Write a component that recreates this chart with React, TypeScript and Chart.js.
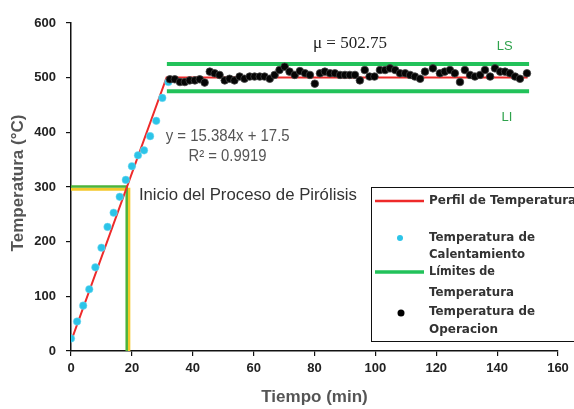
import React, { useEffect, useRef } from "react";
import { Chart, registerables } from "chart.js";

Chart.register(...registerables);

// ---- data ----
const heatTimes = [0, 2, 4, 6, 8, 10, 12, 14, 16, 18, 20, 22, 24, 26, 28, 30, 32];
const heatTemps = [23, 54, 83, 113, 153, 189, 227, 253, 282, 313, 338, 358, 367, 393, 421, 463, 492];

const opTimes = [
  32.5, 34.1, 35.8, 37.4, 39.0, 40.7, 42.3, 43.9, 45.6, 47.2, 48.8, 50.5, 52.1, 53.7, 55.4, 57.0, 58.7,
  60.3, 62.0, 63.6, 65.3, 66.9, 68.5, 70.2, 71.8, 73.5, 75.2, 76.9, 78.5, 80.1, 81.8, 83.4, 85.1, 86.7,
  88.4, 90.0, 91.6, 93.3, 94.9, 96.5, 98.1, 99.7, 101.5, 103.2, 104.8, 106.5, 108.1, 109.8, 111.4,
  113.0, 114.7, 116.3, 118.9, 121.2, 122.8, 124.5, 126.1, 127.8, 129.4, 131.1, 132.7, 134.4, 136.0,
  137.7, 139.3, 141.0, 142.6, 144.2, 145.9, 147.5, 149.8,
];
const opTemps = [
  497, 497, 492, 492, 495, 495, 497, 491, 511, 508, 505, 495, 498, 495, 502, 498, 502,
  502, 502, 502, 498, 505, 514, 520, 511, 505, 512, 508, 505, 489, 508, 511, 508, 508,
  505, 505, 505, 505, 495, 514, 502, 502, 514, 514, 517, 514, 508, 508, 505,
  502, 498, 511, 517, 508, 511, 514, 508, 492, 514, 505, 502, 505, 514,
  502, 517, 511, 511, 508, 502, 498, 508,
];

const profileTimes = [0, 31.4, 150];
const profileTemps = [17.5, 500.5, 500.5];

const limitTimes = [31.5, 150.5];
const upperLimit = 525;
const lowerLimit = 475;

const pyroGreenTimes = [0, 18.3, 18.3];
const pyroGreenTemps = [301, 301, 0];
const pyroYellowTimes = [0, 19, 19];
const pyroYellowTemps = [296, 296, 0];

const xTickValues = [0, 20, 40, 60, 80, 100, 120, 140, 160];
const yTickValues = [0, 100, 200, 300, 400, 500, 600];

const meanLabel = "\u03bc = 502.75";
const fitLabel = "y = 15.384x + 17.5";
const r2Label = "R\u00b2 = 0.9919";
const pyroLabel = "Inicio del Proceso de Pir\u00f3lisis";
const xTitle = "Tiempo (min)";
const yTitle = "Temperatura (\u00b0C)";

const toPts = (xs: number[], ys: number[]) => xs.map((x, i) => ({ x, y: ys[i] }));

const RED = "#ee2a2a";
const GREEN = "#22c25a";
const CYAN = "#2cc4e8";

const overlay = {
  id: "overlay",
  afterDraw(chart: any) {
    const ctx = chart.ctx as CanvasRenderingContext2D;
    const xs = chart.scales.x;
    const ys = chart.scales.y;
    const px = (v: number) => xs.getPixelForValue(v);
    const py = (v: number) => ys.getPixelForValue(v);
    ctx.save();
    ctx.textBaseline = "middle";
    ctx.textAlign = "left";

    // annotations
    ctx.fillStyle = "#222";
    ctx.font = "17px 'Liberation Serif'";
    ctx.fillText(meanLabel, px(79.5), py(563), 78);

    ctx.fillStyle = "#2ea24c";
    ctx.font = "13px 'Liberation Sans'";
    ctx.textAlign = "center";
    ctx.fillText("LS", px(142.5), py(557));
    ctx.fillText("LI", px(143.2), py(428));
    ctx.textAlign = "left";

    ctx.fillStyle = "#555";
    ctx.font = "16px 'Liberation Sans'";
    ctx.fillText(fitLabel, px(31.1), py(392), 124);
    ctx.fillText(r2Label, px(38.6), py(355), 78);

    ctx.fillStyle = "#333";
    ctx.font = "17px 'Liberation Sans'";
    ctx.fillText(pyroLabel, px(22.3), py(285), 218);

    // axis titles
    ctx.fillStyle = "#555";
    ctx.font = "bold 17px 'Liberation Sans'";
    ctx.textAlign = "center";
    ctx.fillText(xTitle, (xs.left + xs.right) / 2, 397, 116);
    ctx.save();
    ctx.translate(18, 183);
    ctx.rotate(-Math.PI / 2);
    ctx.fillText(yTitle, 0, 0, 182);
    ctx.restore();

    // legend
    const lx = 371.5;
    const ly = 187.5;
    ctx.fillStyle = "#fff";
    ctx.fillRect(lx, ly, 210, 154);
    ctx.strokeStyle = "#111";
    ctx.lineWidth = 1;
    ctx.strokeRect(lx, ly, 210, 154);

    ctx.lineWidth = 2.5;
    ctx.strokeStyle = RED;
    ctx.beginPath();
    ctx.moveTo(375, 201);
    ctx.lineTo(424, 201);
    ctx.stroke();

    ctx.fillStyle = CYAN;
    ctx.beginPath();
    ctx.arc(400, 238, 3, 0, Math.PI * 2);
    ctx.fill();

    ctx.lineWidth = 3.5;
    ctx.strokeStyle = GREEN;
    ctx.beginPath();
    ctx.moveTo(375, 272);
    ctx.lineTo(424, 272);
    ctx.stroke();

    ctx.fillStyle = "#000";
    ctx.beginPath();
    ctx.arc(401, 313, 3.5, 0, Math.PI * 2);
    ctx.fill();

    ctx.fillStyle = "#333";
    ctx.font = "bold 12px 'DejaVu Sans'";
    ctx.textAlign = "left";
    ctx.fillText("Perfil de Temperatura", 429, 201, 150);
    ctx.fillText("Temperatura de", 429, 238, 106);
    ctx.fillText("Calentamiento", 429, 255, 96);
    ctx.fillText("L\u00edmites de", 429, 272, 66);
    ctx.fillText("Temperatura", 429, 293, 85);
    ctx.fillText("Temperatura de", 429, 312, 106);
    ctx.fillText("Operacion", 429, 330, 71);

    ctx.restore();
  },
};

export default function App() {
  const ref = useRef<HTMLCanvasElement | null>(null);

  useEffect(() => {
    if (!ref.current) return;
    const chart = new Chart(ref.current, {
      type: "scatter",
      data: {
        datasets: [
          {
            label: "Temperatura de Operacion",
            data: toPts(opTimes, opTemps),
            backgroundColor: "#050505",
            borderColor: "#444",
            borderWidth: 0.8,
            pointRadius: 3.8,
            order: 1,
          },
          {
            label: "Temperatura de Calentamiento",
            data: toPts(heatTimes, heatTemps),
            backgroundColor: CYAN,
            borderColor: "#7fdcf2",
            borderWidth: 0.5,
            pointRadius: 3.8,
            order: 2,
          },
          {
            label: "Perfil de Temperatura",
            data: toPts(profileTimes, profileTemps),
            showLine: true,
            borderColor: RED,
            borderWidth: 2,
            pointRadius: 0,
            order: 3,
          },
          {
            label: "LS",
            data: toPts(limitTimes, [upperLimit, upperLimit]),
            showLine: true,
            borderColor: GREEN,
            borderWidth: 4,
            pointRadius: 0,
            order: 4,
          },
          {
            label: "LI",
            data: toPts(limitTimes, [lowerLimit, lowerLimit]),
            showLine: true,
            borderColor: GREEN,
            borderWidth: 4,
            pointRadius: 0,
            order: 4,
          },
          {
            label: "Pirolisis amarillo",
            data: toPts(pyroYellowTimes, pyroYellowTemps),
            showLine: true,
            borderColor: "#f4c82a",
            borderWidth: 3,
            pointRadius: 0,
            order: 6,
          },
          {
            label: "Pirolisis verde",
            data: toPts(pyroGreenTimes, pyroGreenTemps),
            showLine: true,
            borderColor: "#4cb43a",
            borderWidth: 2.5,
            pointRadius: 0,
            order: 5,
          },
        ],
      },
      options: {
        responsive: false,
        animation: false,
        events: [],
        layout: { padding: { top: 23, right: 16, left: 0, bottom: 0 } },
        plugins: {
          legend: { display: false },
          tooltip: { enabled: false },
        },
        scales: {
          x: {
            type: "linear",
            min: 0,
            max: 160,
            afterFit: (s: any) => {
              s.height = 58;
            },
            afterBuildTicks: (s: any) => {
              s.ticks = xTickValues.map((v) => ({ value: v }));
            },
            grid: {
              drawOnChartArea: false,
              drawTicks: true,
              tickLength: 5,
              color: "#111",
              lineWidth: 1.2,
            },
            border: { display: true, color: "#111", width: 1.5 },
            ticks: {
              color: "#222",
              padding: 5,
              maxRotation: 0,
              font: { family: "'Liberation Sans'", size: 13, weight: "bold" },
            },
          },
          y: {
            type: "linear",
            min: 0,
            max: 600,
            afterFit: (s: any) => {
              s.width = 71;
            },
            afterBuildTicks: (s: any) => {
              s.ticks = yTickValues.map((v) => ({ value: v }));
            },
            grid: {
              drawOnChartArea: false,
              drawTicks: true,
              tickLength: 5,
              color: "#111",
              lineWidth: 1.2,
            },
            border: { display: true, color: "#111", width: 1.5 },
            ticks: {
              color: "#222",
              padding: 10,
              font: { family: "'Liberation Sans'", size: 13, weight: "bold" },
            },
          },
        },
      },
      plugins: [overlay],
    });
    return () => chart.destroy();
  }, []);

  return (
    <div style={{ position: "absolute", left: 0, top: 0, width: 574, height: 409, background: "#fff" }}>
      <canvas ref={ref} width={574} height={409} style={{ width: 574, height: 409 }} />
    </div>
  );
}
